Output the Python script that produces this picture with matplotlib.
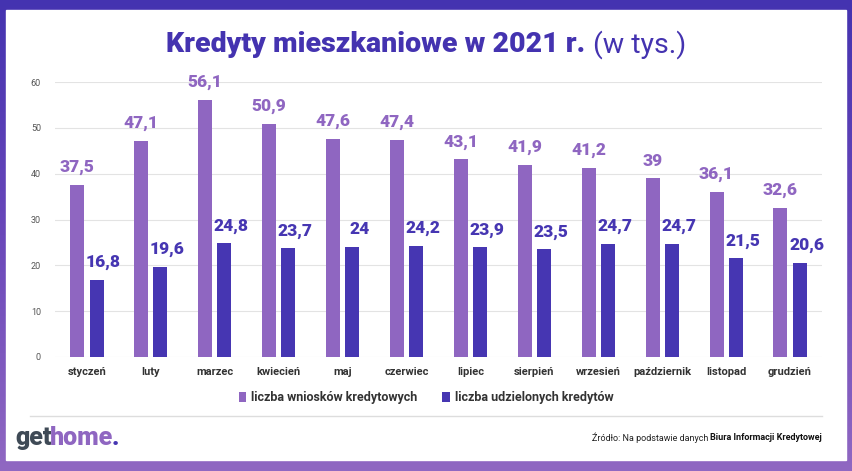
import numpy as np
import matplotlib
matplotlib.use("Agg")
import matplotlib.pyplot as plt
from matplotlib.patches import Rectangle
from matplotlib.colors import LinearSegmentedColormap

months = ["styczeń", "luty", "marzec", "kwiecień", "maj", "czerwiec",
          "lipiec", "sierpień", "wrzesień", "październik", "listopad", "grudzień"]
wnioski = [37.5, 47.1, 56.1, 50.9, 47.6, 47.4, 43.1, 41.9, 41.2, 39, 36.1, 32.6]
udzielone = [16.8, 19.6, 24.8, 23.7, 24, 24.2, 23.9, 23.5, 24.7, 24.7, 21.5, 20.6]
yticks = [0, 10, 20, 30, 40, 50, 60]

LIGHT = "#8f66c1"
DARK = "#4636b2"
TITLE = "#4433b0"

plt.rcParams["font.family"] = ["Roboto", "DejaVu Sans"]

W, H = 852, 471
fig = plt.figure(figsize=(W / 100, H / 100), dpi=100)

# gradient frame
bg = fig.add_axes([0, 0, 1, 1], zorder=-10)
cmap = LinearSegmentedColormap.from_list("frame", ["#4433b0", "#6a48ba", "#9068c2"])
bg.imshow(np.linspace(0, 1, 256).reshape(-1, 1), aspect="auto", cmap=cmap,
          extent=[0, 1, 0, 1], origin="upper")
bg.add_patch(Rectangle((6 / W, 1 - 460 / H), 840 / W, 450 / H, color="white"))
bg.plot([30 / W, 822 / W], [1 - 416 / H] * 2, color="#dddddd", lw=1)
bg.set_xlim(0, 1)
bg.set_ylim(0, 1)
bg.axis("off")

ax = fig.add_axes([55 / W, 1 - 357 / H, 767 / W, 275 / H])
x = np.arange(len(months))
bw = 0.22
ax.bar(x - 0.15, wnioski, bw, color=LIGHT, label="liczba wniosków kredytowych", zorder=3)
ax.bar(x + 0.15, udzielone, bw, color=DARK, label="liczba udzielonych kredytów", zorder=3)

def fmt(v):
    return (f"{v:g}").replace(".", ",")

for xi, v in zip(x, wnioski):
    ax.annotate(fmt(v), (xi - 0.15, v), xytext=(0, 7), textcoords="offset points",
                ha="center", va="bottom", color=LIGHT, fontsize=12.5,
                fontweight="black", annotation_clip=False)
for xi, v in zip(x, udzielone):
    ax.annotate(fmt(v), (xi + 0.15, v), xytext=(5, 7), textcoords="offset points",
                ha="center", va="bottom", color=DARK, fontsize=12.5,
                fontweight="black", annotation_clip=False)

ax.set_xlim(-0.5, len(months) - 0.5)
ax.set_ylim(0, 60)
ax.set_yticks(yticks)
ax.set_xticks(x)
ax.set_xticklabels(months, fontsize=8, fontweight="bold", color="#333333")
ax.tick_params(axis="y", labelsize=6.5, colors="#555555", length=0, pad=10)
ax.tick_params(axis="x", length=0, pad=7)
ax.grid(axis="y", color="#e3e3e3", lw=0.8, zorder=0)
for s in ax.spines.values():
    s.set_visible(False)
ax.set_facecolor("none")

leg = fig.legend(loc="center", bbox_to_anchor=(0.5, 1 - 398 / H), ncol=2,
                 frameon=False, prop=dict(weight="bold", size=9),
                 handlelength=0.6, handleheight=0.8,
                 columnspacing=2.0, handletextpad=0.4, labelcolor="#333333")

fig.canvas.draw()
r = fig.canvas.get_renderer()

def chain(parts, x0, y, ha="left", kern=0.0, **kw):
    # draw consecutive text pieces, each with its own style
    items = [fig.text(0, y, s, va="center", **kw, **st) for s, st in parts]
    widths = [t.get_window_extent(r).width / W + kern / W for t in items]
    start = x0 - sum(widths) if ha == "right" else (x0 - sum(widths) / 2 if ha == "center" else x0)
    for t, w in zip(items, widths):
        t.set_x(start)
        start += w

chain([("Kredyty mieszkaniowe w 2021 r. ", dict(fontweight="black", color=TITLE, fontsize=20.5)),
       ("(w tys.)", dict(fontweight="normal", color=TITLE, fontsize=20.5))],
      0.5, 1 - 45 / H, ha="center")
chain([("get", dict(color="#3f4a56")), ("home", dict(color=LIGHT)), (".", dict(color=DARK))],
      15 / W, 1 - 438 / H, kern=-1.5, fontsize=18, fontweight="black")
chain([("Źródło: Na podstawie danych ", dict(color="#222222")),
       ("Biura Informacji Kredytowej", dict(color="#111111", fontweight="bold"))],
      822 / W, 1 - 438 / H, ha="right", fontsize=6.5)

fig.savefig("out.png", dpi=100)
